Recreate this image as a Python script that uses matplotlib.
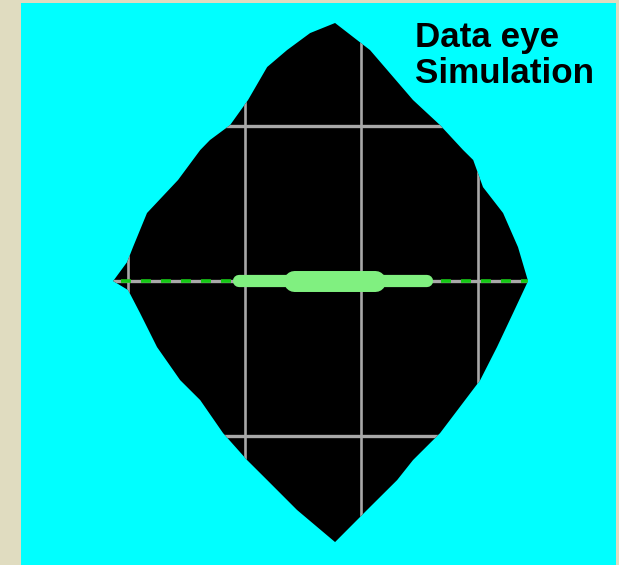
import matplotlib
import matplotlib.pyplot as plt
import numpy as np

matplotlib.rcParams["lines.scale_dashes"] = False

## Eye opening outline (time in ps, amplitude in mV), clockwise from the top
eye_t = [88.7, 103.7, 122.1, 133.7, 143.6, 147.9, 152.1, 160.7, 167.1, 171.4,
         165.0, 158.1, 150.9, 133.7, 122.1, 115.3, 102.4, 88.7,
         72.4, 59.6, 51.0, 40.7, 30.9, 22.3, 12.4, 5.1, 0.0, -6.4,
         -0.4, 2.1, 8.1, 21.4, 30.9, 35.1, 43.7, 51.4, 59.6, 68.1, 78.0]
eye_v = [166.5, 149.0, 116.8, 100.6, 84.5, 78.1, 60.6, 43.9, 21.9, 0.0,
         -20.6, -42.6, -63.9, -98.1, -115.5, -128.4, -147.7, -168.4,
         -147.7, -128.4, -115.5, -98.1, -76.8, -63.9, -42.6, -20.6, -5.8, 0.0,
         12.3, 21.9, 43.9, 65.2, 84.5, 91.0, 100.6, 116.8, 138.1, 149.0, 160.0]

## Graticule divisions
grid_t = [0, 50, 100, 150]
grid_v = [-100, 100]

## Crossing jitter at the threshold (ps): total and core spread
jitter_total = [47.6, 128.1]
jitter_core = [70.9, 105.6]
threshold_v = 0

fig = plt.figure(figsize=(6.19, 5.65), dpi=100, facecolor="#e0dcc0")
ax = fig.add_axes([21 / 619, 0, 595 / 619, 562 / 565])
ax.set_facecolor("#00ffff")
ax.set_xlim(-45.9, 209.1)
ax.set_ylim(-183.2, 179.4)
for s in ax.spines.values():
	s.set_visible(False)
ax.set_xticks([])
ax.set_yticks([])

## Black eye opening
eye = ax.fill(eye_t, eye_v, color="black", lw=0, zorder=1)[0]

## Grey graticule, visible inside the eye only
grid_lines = []
for t in grid_t:
	grid_lines.append(ax.axvline(t, color="#a8a8a8", lw=1.9, zorder=2))
for v in grid_v + [threshold_v]:
	grid_lines.append(ax.axhline(v, color="#a8a8a8", lw=2.4, zorder=2))
for l in grid_lines:
	l.set_clip_path(eye)

## Green threshold trace
thr = ax.axhline(threshold_v, color="#14c814", lw=2.6, dashes=(7.2, 7.2), zorder=3)
thr.set_clip_path(eye)

## Jitter bars
ax.plot(jitter_total, [threshold_v, threshold_v], color="#80f080", lw=8.8, solid_capstyle="round", zorder=4)
ax.plot(jitter_core, [threshold_v, threshold_v], color="#80f080", lw=15.1, solid_capstyle="round", zorder=5)

## Caption, last line's baseline is the anchor
fig.text(415 / 619, 1 - 83 / 565, "Data eye\nSimulation", fontsize=25.2, fontweight="bold",
	family="Liberation Sans", va="baseline", ha="left", linespacing=1.12, color="black")

plt.savefig("out.png", dpi=100, facecolor=fig.get_facecolor())
